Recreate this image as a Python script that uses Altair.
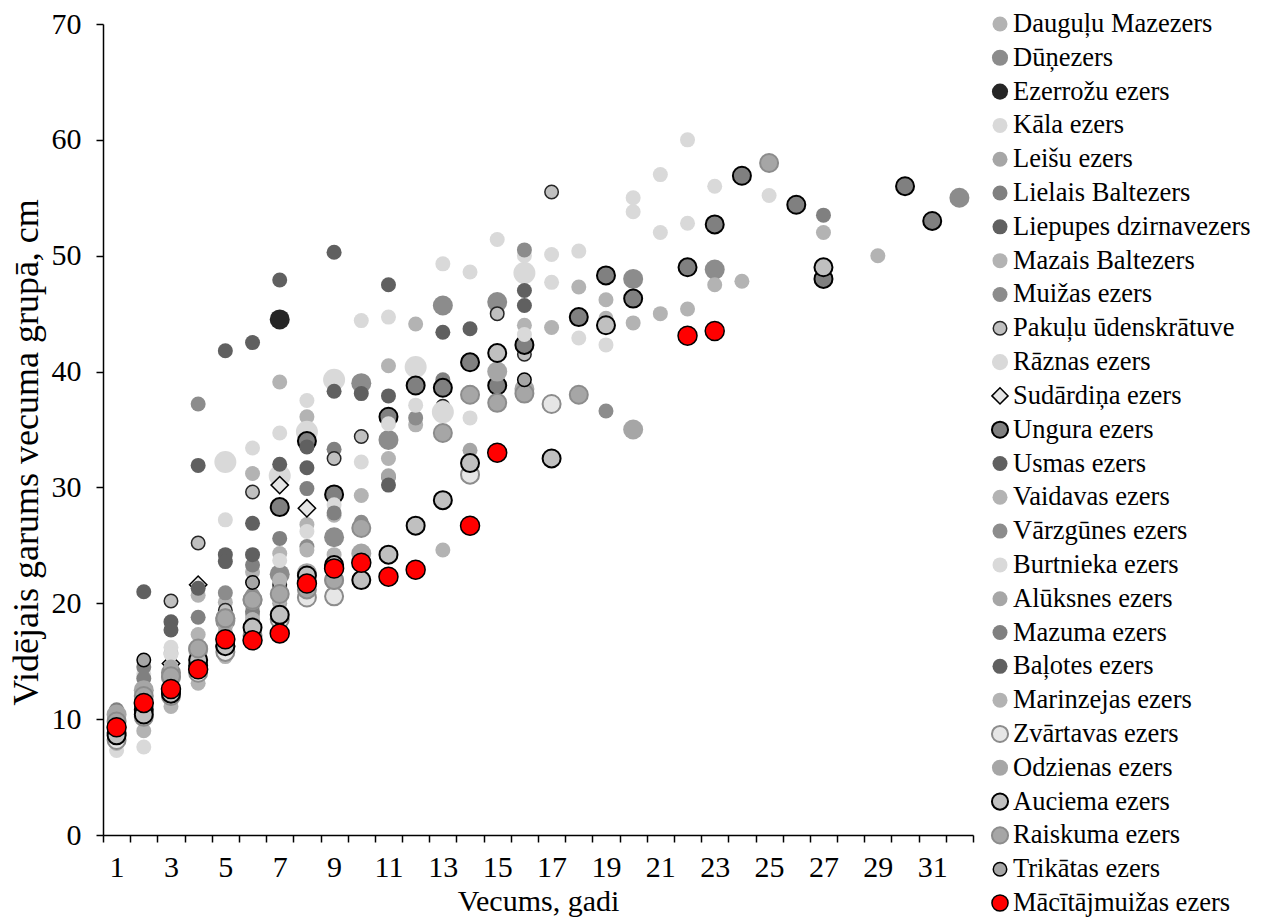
import altair as alt
import pandas as pd

FONT = "Liberation Serif"

lakes = [
    "Dauguļu Mazezers", "Dūņezers", "Ezerrožu ezers", "Kāla ezers", "Leišu ezers",
    "Lielais Baltezers", "Liepupes dzirnavezers", "Mazais Baltezers", "Muižas ezers",
    "Pakuļu ūdenskrātuve", "Rāznas ezers", "Sudārdiņa ezers", "Ungura ezers",
    "Usmas ezers", "Vaidavas ezers", "Vārzgūnes ezers", "Burtnieka ezers",
    "Alūksnes ezers", "Mazuma ezers", "Baļotes ezers", "Marinzejas ezers",
    "Zvārtavas ezers", "Odzienas ezers", "Auciema ezers", "Raiskuma ezers",
    "Trikātas ezers", "Mācītājmuižas ezers",
]

# (age, mean length) per lake
daugulu = [(1, 10.0), (2, 12.0), (3, 15.7), (4, 20.7), (5, 20.1), (6, 22.7), (7, 24.3), (8, 26.8),
           (9, 27.6), (10, 29.3), (11, 32.5), (12, 35.4), (19, 44.6)]
dunezers = [(3, 14.0), (5, 18.5), (7, 22.5), (9, 25.7), (10, 39.0), (11, 34.1), (13, 45.7), (15, 46.0),
            (20, 48.0), (23, 48.8), (32, 55.0)]
ezerrozu = [(7, 44.5)]
kala = [(2, 13.9), (3, 16.2), (5, 27.2), (6, 33.4), (7, 34.7), (8, 37.5), (10, 44.4), (11, 44.7), (13, 49.3),
        (14, 48.6), (15, 51.4), (16, 50.0), (17, 50.1), (18, 50.4), (20, 55.0), (21, 57.0), (22, 60.0),
        (23, 56.0), (25, 55.2)]
leisu = [(1, 10.6), (2, 12.2), (3, 13.7), (4, 16.1), (5, 18.7), (6, 20.3), (7, 21.4), (8, 22.6), (9, 22.2),
         (10, 24.3), (14, 33.2), (15, 37.3)]
lielais = [(1, 10.8), (2, 14.5), (4, 18.8), (6, 23.3), (7, 25.6), (8, 29.9), (9, 33.3), (11, 30.9),
           (13, 39.3), (27, 53.5)]
liepupes = [(2, 21.0), (4, 31.9), (5, 41.8), (6, 42.5), (7, 47.9), (9, 50.3), (11, 47.5)]
mazais = [(6, 31.2), (7, 39.1), (8, 36.1), (11, 40.5), (12, 44.1), (16, 44.0), (17, 43.8), (18, 47.3),
          (19, 46.2), (20, 44.2), (21, 45.0), (22, 45.4), (23, 47.5), (24, 47.8), (27, 52.0), (29, 50.0)]
muizas = [(4, 37.2), (8, 24.9), (12, 36.0), (16, 50.5), (19, 36.6)]
pakulu = [(3, 20.2), (4, 25.2), (5, 19.4), (6, 29.6), (7, 21.6), (9, 32.5), (10, 34.4), (13, 37.0),
          (15, 45.0), (16, 41.5), (17, 55.5)]
raznas = [(5, 32.2), (7, 31.0), (8, 34.8), (9, 39.3), (12, 40.4), (13, 36.5), (16, 48.5)]
sudardina = [(3, 14.8), (4, 21.6), (7, 30.2), (8, 28.2)]
ungura = [(1, 8.8), (2, 10.8), (3, 12.4), (4, 14.6), (5, 16.3), (7, 28.3), (8, 34.0), (9, 29.4), (11, 36.1),
          (12, 38.8), (13, 38.6), (14, 40.8), (15, 38.8), (16, 42.3), (18, 44.7), (19, 48.3), (20, 46.3),
          (22, 49.0), (23, 52.7), (24, 56.9), (26, 54.4), (27, 48.0), (30, 56.0), (31, 53.0)]
usmas = [(3, 18.4), (4, 21.3), (5, 24.2), (6, 26.9), (7, 32.0), (8, 33.5), (9, 38.3), (10, 38.1), (11, 37.9),
         (13, 43.4), (14, 43.7), (16, 47.0)]
vaidavas = [(1, 9.5), (2, 11.0), (3, 13.2), (4, 17.3), (5, 18.0), (6, 19.8), (7, 22.0), (9, 24.2)]
varzgunes = [(1, 10.2), (3, 14.2), (5, 20.9), (6, 20.7), (7, 21.0), (8, 21.1), (10, 27.0)]
burtnieka = [(1, 7.3), (2, 7.6), (3, 15.6), (7, 23.7), (8, 26.2), (9, 28.5), (10, 32.2), (11, 35.5),
             (12, 37.1), (14, 36.0), (16, 43.2), (17, 47.7), (18, 42.9), (19, 42.3), (20, 53.8), (21, 52.0),
             (22, 52.8)]
aluksnes = [(2, 11.8), (3, 14.5), (4, 15.5), (5, 17.5), (6, 19.0), (7, 20.0), (11, 31.0)]
mazuma = [(2, 13.5), (6, 19.3), (9, 27.8), (14, 38.2)]
balotes = [(3, 17.7), (5, 23.6), (6, 24.2), (8, 31.7), (11, 30.2), (16, 45.7)]
marinzejas = [(1, 7.9), (2, 9.0), (3, 11.1), (4, 13.1), (5, 15.4), (6, 18.6), (7, 20.3), (8, 24.6), (13, 24.6)]
zvartavas = [(1, 8.2), (2, 10.2), (3, 12.0), (4, 14.0), (5, 15.8), (6, 17.2), (7, 18.6), (8, 20.5),
             (9, 20.6), (14, 31.1), (17, 37.2)]
odzienas = [(1, 10.4), (2, 12.5), (3, 13.6), (4, 16.0), (5, 18.7), (6, 20.3), (8, 22.6), (9, 22.0),
            (10, 24.3), (15, 40.0), (16, 38.5), (20, 35.0)]
auciema = [(1, 8.6), (2, 10.4), (3, 12.2), (4, 15.1), (5, 16.3), (6, 17.9), (7, 19.0), (8, 22.4), (9, 23.3),
           (10, 22.0), (11, 24.2), (12, 26.7), (13, 28.9), (14, 32.1), (15, 41.6), (17, 32.5), (19, 44.0),
           (27, 49.0)]
raiskuma = [(1, 9.8), (2, 12.0), (3, 13.7), (4, 16.1), (5, 18.7), (6, 20.3), (7, 20.8), (8, 21.2), (9, 22.0),
            (10, 26.5), (13, 34.7), (14, 38.0), (15, 37.3), (16, 38.1), (18, 38.0), (25, 58.0)]
trikatas = [(2, 15.1), (6, 21.8), (16, 39.3)]
macitajmuizas = [(1, 9.3), (2, 11.4), (3, 12.6), (4, 14.3), (5, 16.9), (6, 16.8), (7, 17.4), (8, 21.7),
                 (9, 23.0), (10, 23.5), (11, 22.3), (12, 22.9), (14, 26.7), (15, 33.0), (22, 43.1), (23, 43.5)]

series = [daugulu, dunezers, ezerrozu, kala, leisu, lielais, liepupes, mazais, muizas, pakulu, raznas,
          sudardina, ungura, usmas, vaidavas, varzgunes, burtnieka, aluksnes, mazuma, balotes, marinzejas,
          zvartavas, odzienas, auciema, raiskuma, trikatas, macitajmuizas]


# marker styles (shape, fill, stroke, stroke width, size)
def st(fill, size=225, shape="circle", stroke="", sw=0):
    return {"fill": fill, "size": size, "shape": shape, "stroke": stroke, "sw": sw}


styles = [
    st("#b3b3b3"), st("#8c8c8c", 400), st("#262626", 400), st("#d9d9d9"), st("#a6a6a6"),
    st("#808080"), st("#606060"), st("#b3b3b3"), st("#8c8c8c"),
    st("#c0c0c0", 182, stroke="#262626", sw=1.5), st("#d9d9d9", 484),
    st("#e6e6e6", 300, shape="diamond", stroke="#000000", sw=1.5),
    st("#808080", 324, stroke="#000000", sw=2), st("#606060"), st("#b3b3b3"), st("#8c8c8c"),
    st("#d9d9d9"), st("#a6a6a6"), st("#808080"), st("#606060"), st("#b3b3b3"),
    st("#e6e6e6", 324, stroke="#8c8c8c", sw=2), st("#a6a6a6", 400),
    st("#c0c0c0", 324, stroke="#000000", sw=2), st("#a6a6a6", 324, stroke="#8c8c8c", sw=2),
    st("#a6a6a6", 182, stroke="#000000", sw=1.5), st("#ff0000", 361, stroke="#000000", sw=1.5),
]

rows = []
for name, pts in zip(lakes, series):
    for a, v in pts:
        rows.append({"lake": name, "age": a, "len": v})
df = pd.DataFrame(rows)

W, H = 870, 811
X0, X1 = 0.5, 32.5
step = W / (X1 - X0)

x_enc = alt.X(
    "age:Q",
    scale=alt.Scale(domain=[X0, X1], nice=False, zero=False),
    axis=alt.Axis(
        values=[X0 + i for i in range(33)],
        labelExpr="((datum.value + 0.5) % 2 == 1 && datum.value < 32) ? format(datum.value + 0.5, 'd') : ''",
        labelOffset=step / 2,
        labelFlush=False,
        labelOverlap=False,
        labelBound=False,
        tickSize=7,
        labelPadding=10,
        titlePadding=4,
        title="Vecums, gadi",
        grid=False,
    ),
)
y_enc = alt.Y(
    "len:Q",
    scale=alt.Scale(domain=[0, 70], nice=False, zero=True),
    axis=alt.Axis(values=list(range(0, 71, 10)), tickSize=7, labelPadding=15, titlePadding=6,
                  titleFontSize=36, titleY=428,
                  title="Vidējais garums vecuma grupā, cm", grid=False),
)


def mark_kw(s, legend=False):
    kw = dict(shape=s["shape"], filled=True, fill=s["fill"], opacity=1,
              size=min(s["size"], 260) if legend else s["size"])
    if s["stroke"]:
        kw["stroke"] = s["stroke"]
        kw["strokeWidth"] = s["sw"]
        kw["strokeOpacity"] = 1
    return kw


base = alt.Chart(df)
layers = []
for name, s in zip(lakes, styles):
    layers.append(
        base.transform_filter(alt.datum.lake == name).mark_point(**mark_kw(s)).encode(x=x_enc, y=y_enc)
    )
main = alt.layer(*layers).properties(width=W, height=H)

leg_df = pd.DataFrame({"lake": lakes})
ly = alt.Y("lake:N", scale=alt.Scale(type="point", domain=lakes, padding=0), axis=None)
leg_layers = []
for name, s in zip(lakes, styles):
    leg_layers.append(
        alt.Chart(leg_df).transform_filter(alt.datum.lake == name)
        .mark_point(**mark_kw(s, legend=True)).encode(y=ly, x=alt.value(-3))
    )
leg_text = alt.Chart(leg_df).mark_text(
    align="left", baseline="middle", font=FONT, fontSize=26.5, color="black"
).encode(y=ly, x=alt.value(10), text="lake:N")
legend = alt.layer(*leg_layers, leg_text).properties(width=250, height=879)

chart = (
    alt.hconcat(main, legend, spacing=0)
    .properties(padding={"left": 8, "top": 9, "right": 0, "bottom": 0}, background="white")
    .configure_view(stroke=None)
    .configure_axis(
        labelFont=FONT, titleFont=FONT, labelFontSize=30, titleFontSize=30,
        labelColor="black", titleColor="black", titleFontWeight="normal",
        domainColor="black", tickColor="black", domainWidth=1.5, tickWidth=1.5,
    )
)

chart.save("out.html", embed_options={"renderer": "svg", "actions": False})
